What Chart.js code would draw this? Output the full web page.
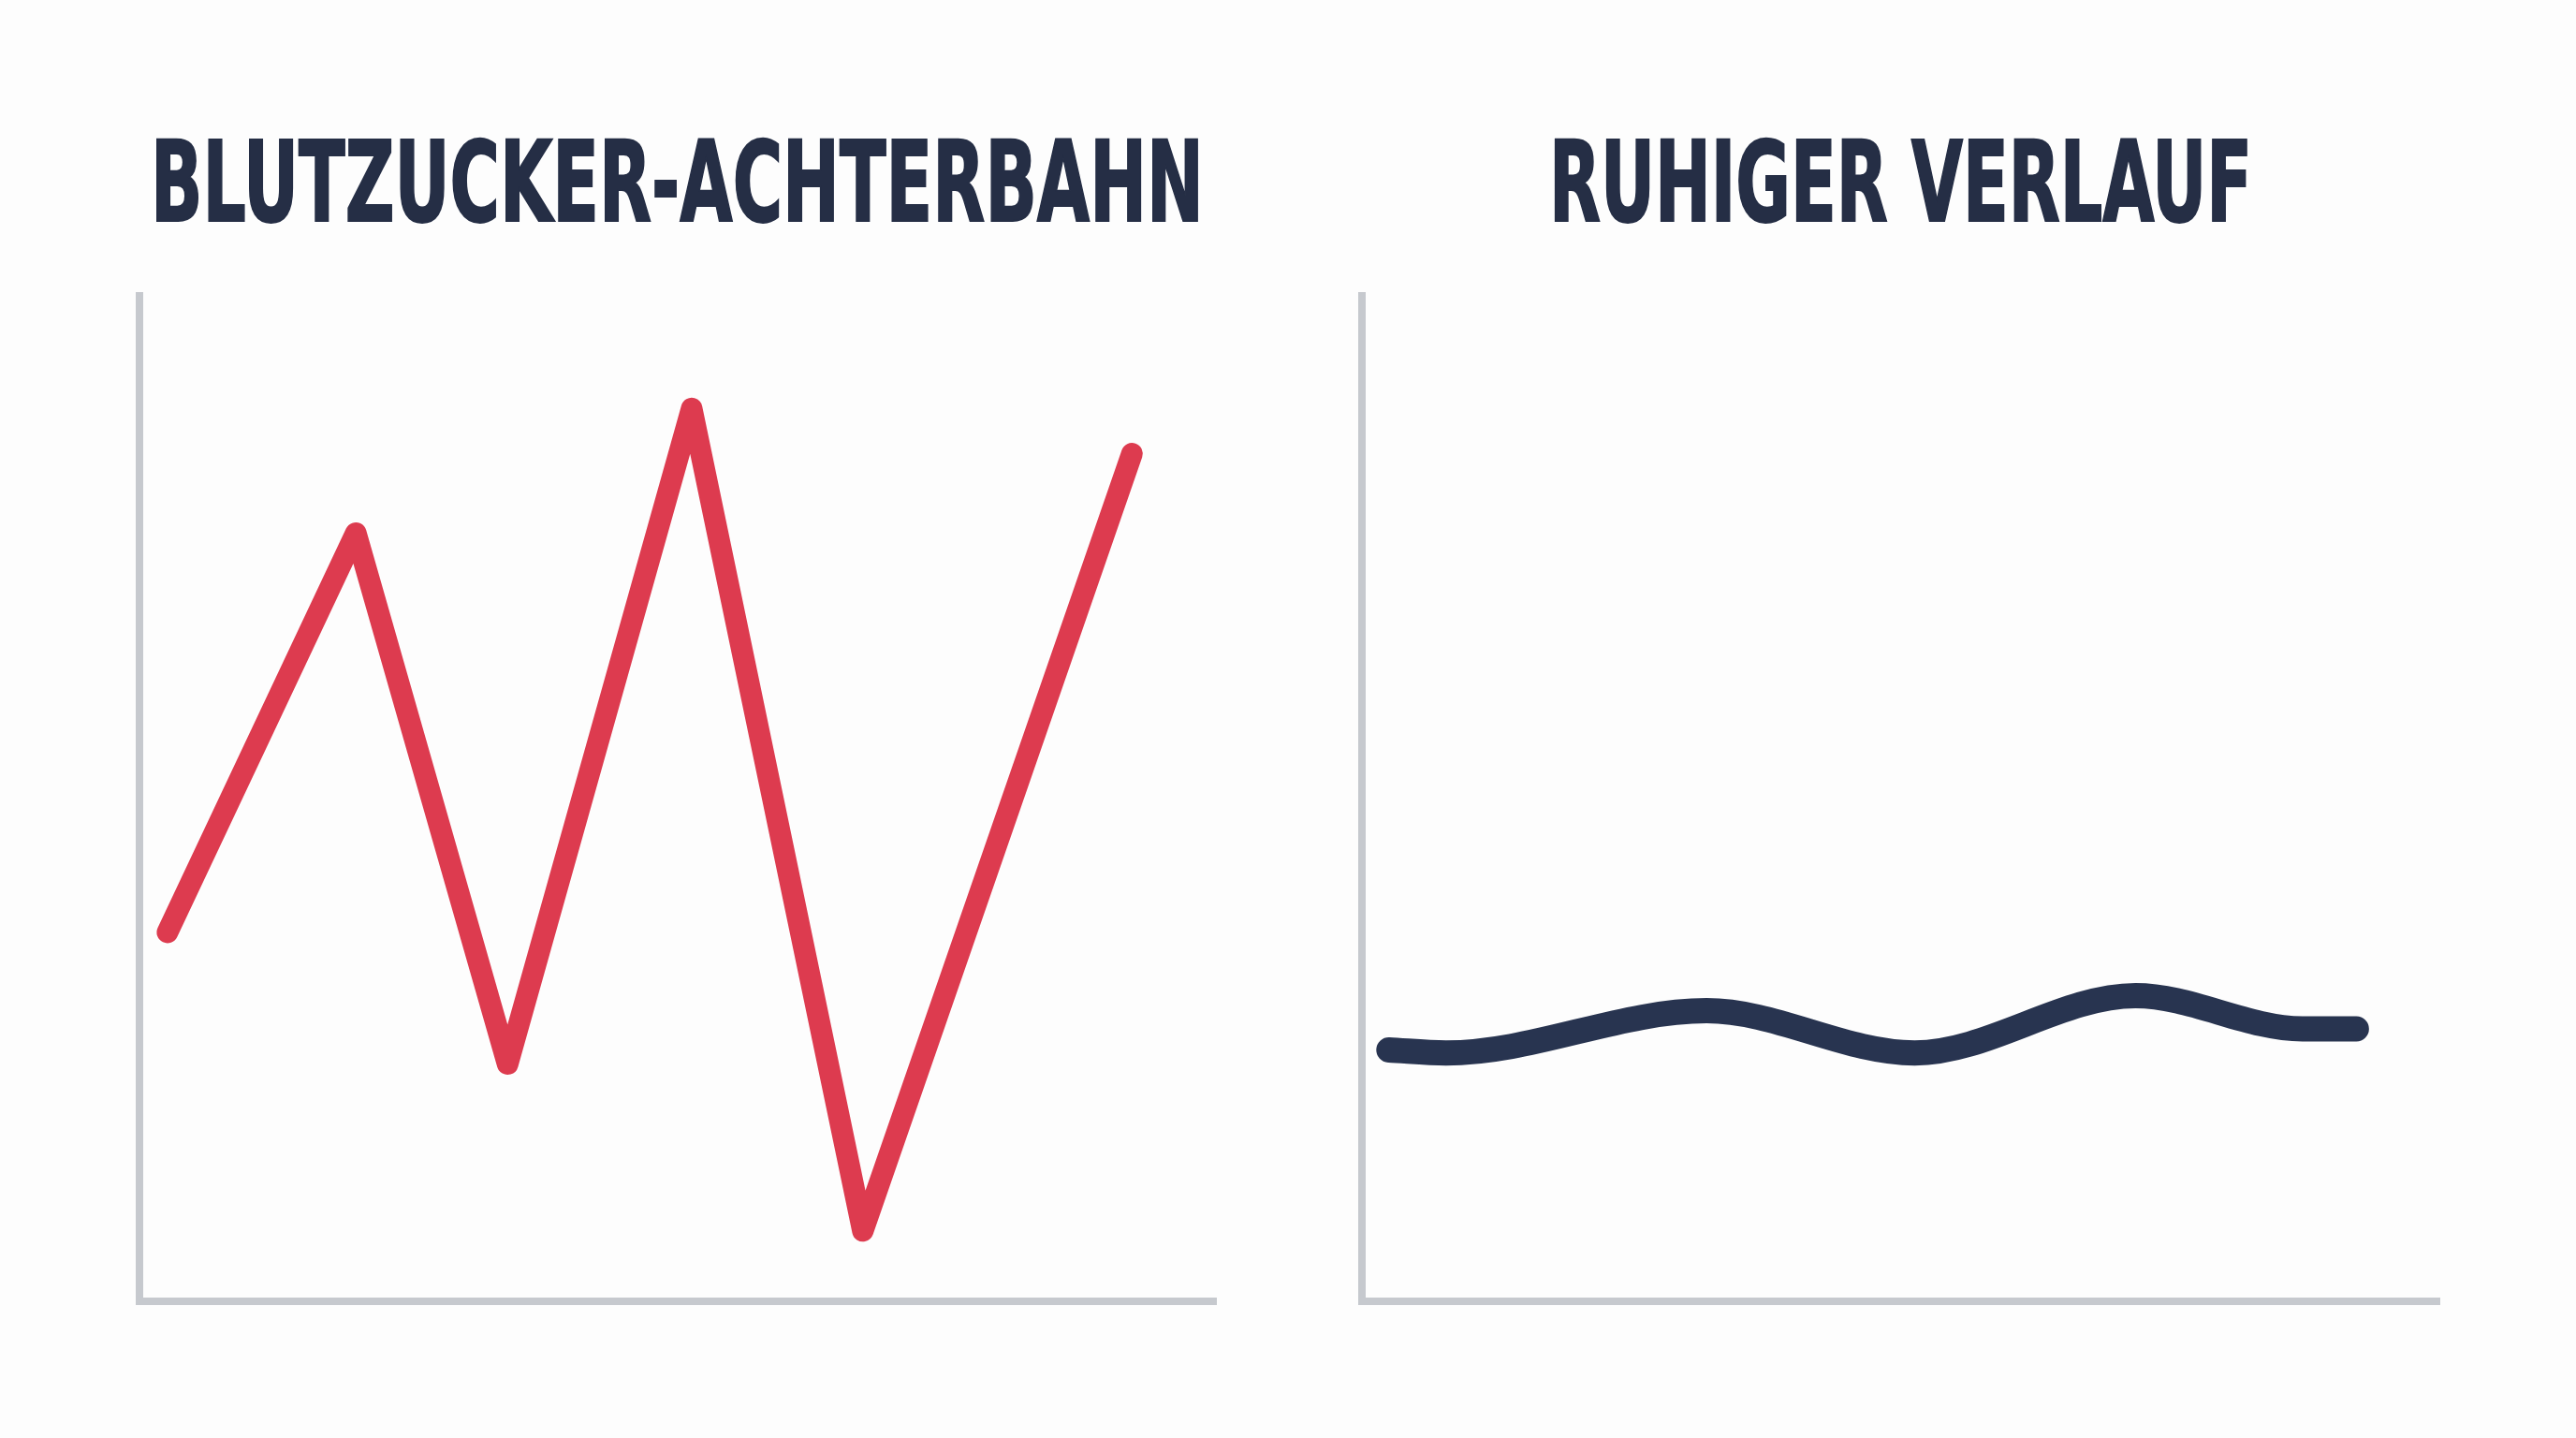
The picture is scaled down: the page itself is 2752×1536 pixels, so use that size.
<!DOCTYPE html>
<html lang="de">
<head>
<meta charset="utf-8">
<title>Blutzucker-Achterbahn vs. ruhiger Verlauf</title>
<script src="https://cdn.jsdelivr.net/npm/chart.js@4.4.1/dist/chart.umd.min.js"></script>
<style>
  html, body { margin: 0; padding: 0; background: #fdfdfd; }
  body { width: 2752px; height: 1536px; position: relative; overflow: hidden; }
  .title {
    position: absolute;
    display: inline-block;
    top: 135px;
    margin: 0;
    font-family: "Liberation Sans Narrow", "DejaVu Sans Condensed", "Liberation Sans", sans-serif;
    font-weight: 700;
    font-size: 120px;
    line-height: 1;
    color: #252e45;
    -webkit-text-stroke: 2px #252e45;
    white-space: nowrap;
    transform-origin: 0 0;
  }
  canvas { position: absolute; }
</style>
</head>
<body>
<h2 class="title" id="title-left" style="left:161px" data-width="1125">BLUTZUCKER-ACHTERBAHN</h2>
<h2 class="title" id="title-right" style="left:1655px" data-width="751">RUHIGER VERLAUF</h2>
<canvas id="chart-left"></canvas>
<canvas id="chart-right"></canvas>
<script>
// values, both axes 0..100
const chaosX = [2.6, 20.1, 34.2, 51.3, 67.2, 92.2];
const chaosY = [36.7, 76.4, 23.6, 88.8, 7.0, 84.3];
const calmX = [2.5, 7.8, 32.0, 51.3, 71.8, 87.3, 92.3];
const calmY = [25.0, 24.7, 28.9, 24.7, 30.4, 27.1, 27.1];

const axisColor = "#c6c9ce";
const pad = 40;

// squeeze the titles to the width they have in the reference
function fitTitles() {
    document.querySelectorAll(".title").forEach((el) => {
        el.style.transform = "none";
        const w = el.getBoundingClientRect().width;
        el.style.transform = `scaleX(${el.dataset.width / w})`;
    });
}

const makeChart = (id, box, xs, ys, color, width, smooth) => {
    const canvas = document.getElementById(id);
    canvas.width = box.w + pad * 2;
    canvas.height = box.h + pad * 2;
    canvas.style.left = (box.x - pad) + "px";
    canvas.style.top = (box.y - pad) + "px";

    const axis = (min, max) => ({
        type: "linear",
        min: min,
        max: max,
        grid: { display: false, drawTicks: false },
        ticks: { display: false },
        border: { display: true, color: axisColor, width: 8 },
    });

    return new Chart(canvas, {
        type: "line",
        data: {
            datasets: [{
                data: xs.map((x, i) => ({ x: x, y: ys[i] })),
                borderColor: color,
                borderWidth: width,
                borderCapStyle: "round",
                borderJoinStyle: "round",
                pointRadius: 0,
                fill: false,
                clip: false,
                tension: smooth ? 0.4 : 0,
                cubicInterpolationMode: smooth ? "monotone" : "default",
            }],
        },
        options: {
            responsive: false,
            animation: false,
            devicePixelRatio: 1,
            layout: { padding: pad },
            plugins: { legend: { display: false }, tooltip: { enabled: false } },
            scales: { x: axis(0, 100), y: axis(0, 100) },
        },
    });
};

makeChart("chart-left", { x: 149, y: 316, w: 1150, h: 1074 }, chaosX, chaosY, "#dd3b4f", 23, false);
makeChart("chart-right", { x: 1455, y: 316, w: 1151, h: 1074 }, calmX, calmY, "#283450", 27, true);

fitTitles();
if (document.fonts) document.fonts.ready.then(fitTitles);
</script>
</body>
</html>
